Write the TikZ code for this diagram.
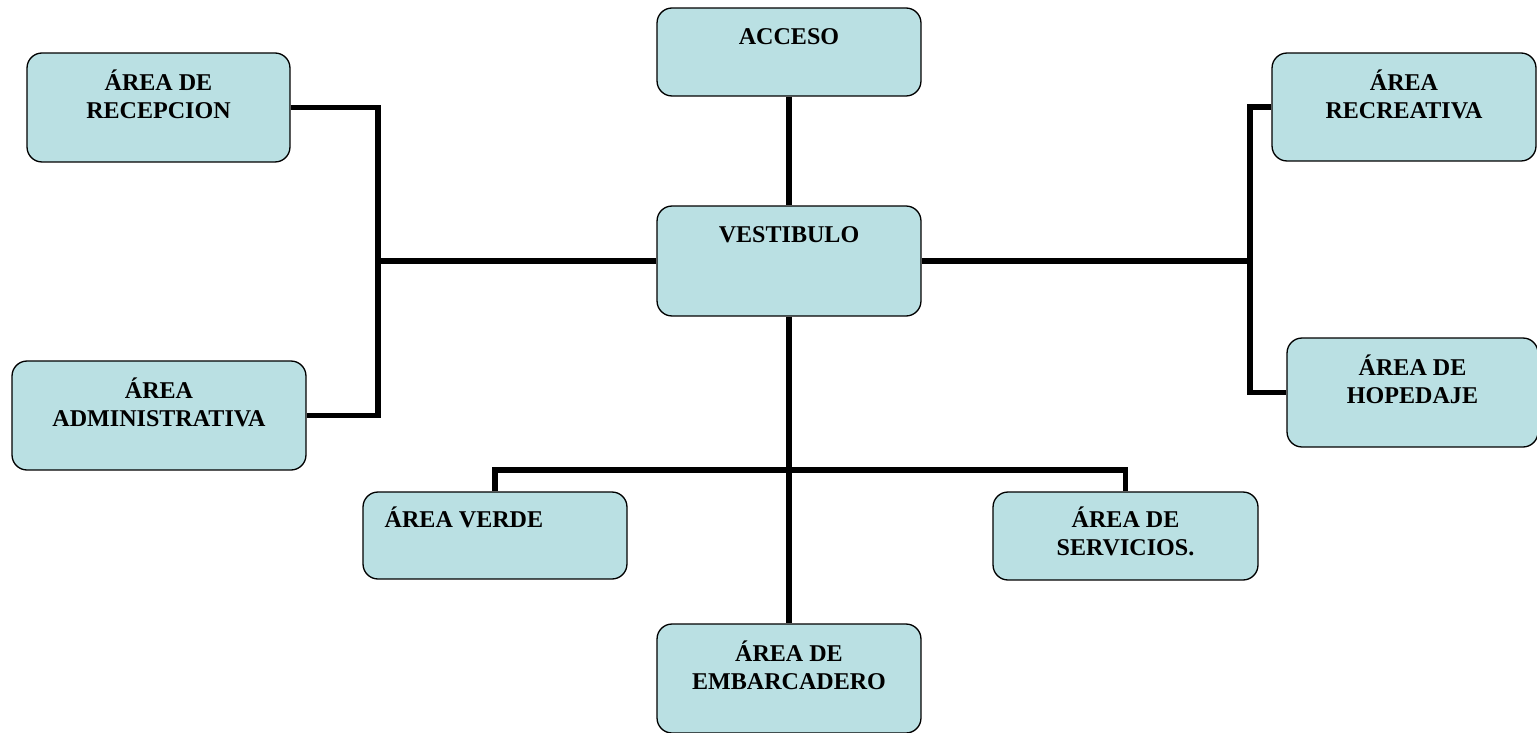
\documentclass[tikz,border=0pt]{standalone}
\usepackage{fontspec}
\setmainfont{Liberation Serif}
\usepackage{xcolor}
\usepackage{tikz}
\usetikzlibrary{positioning,calc}

\definecolor{boxfill}{RGB}{186,224,227}

\tikzset{
  areabox/.style={draw, rounded corners=0.3cm, fill=boxfill, line width=0.75pt,
    minimum width=5.28cm, minimum height=2.18cm, inner sep=0pt},
  lbl/.style={anchor=north, inner sep=0pt, yshift=-0.35cm, align=center,
    font=\fontsize{13.7}{15.6}\selectfont\bfseries},
  link/.style={line width=3.1pt}
}

\begin{document}
\begin{tikzpicture}[x=0.02cm, y=-0.02cm]
		\useasboundingbox (0,0) rectangle (1537,733);

		% centro
		\node[areabox, minimum height=1.76cm, label={[lbl, yshift=-0.06cm]north:ACCESO}] (acceso) at (789,52) {};
		\node[areabox, minimum height=2.2cm, label={[lbl, yshift=-0.06cm]north:VESTIBULO}] (vestibulo) at (789,261) {};
		\node[areabox, label={[lbl]north:ÁREA DE\\EMBARCADERO}] (embarcadero) at (789,678.5) {};

		% izquierda
		\node[areabox, minimum width=5.26cm, label={[lbl]north:ÁREA DE\\RECEPCION}] (recepcion) at (158.5,107.5) {};
		\node[areabox, minimum width=5.88cm, label={[lbl]north:ÁREA\\ADMINISTRATIVA}] (admin) at (159,415.5) {};

		% derecha
		\node[areabox, minimum height=2.16cm, label={[lbl]north:ÁREA\\RECREATIVA}] (recreativa) at (1404,107) {};
		\node[areabox, minimum width=5.02cm, label={[lbl]north:ÁREA DE\\HOPEDAJE}] (hopedaje) at (1412.5,392.5) {};

		% abajo
		\node[areabox, minimum height=1.74cm, label={[lbl, anchor=north west, xshift=0.44cm, yshift=0.04cm]north west:ÁREA VERDE}] (verde) at (495,535.5) {};
		\node[areabox, minimum width=5.3cm, minimum height=1.76cm, label={[lbl, yshift=0.04cm]north:ÁREA DE\\SERVICIOS.}] (servicios) at (1125.5,536) {};

		% puntos de union
		\coordinate (lbus) at (378,261);
		\coordinate (rbus) at (1250,261);
		\coordinate (bbus) at (789,470);

		\draw[link] (acceso) -- (vestibulo);
		\draw[link] (vestibulo) -- (embarcadero);
		\draw[link] (recepcion.east) -| (lbus) |- (admin.east);
		\draw[link] (vestibulo.west) -- (lbus);
		\draw[link] (recreativa.west) -| (rbus) |- (hopedaje.west);
		\draw[link] (vestibulo.east) -- (rbus);
		\draw[link] (verde.north) |- (bbus) -| (servicios.north);
	\end{tikzpicture}
\end{document}
